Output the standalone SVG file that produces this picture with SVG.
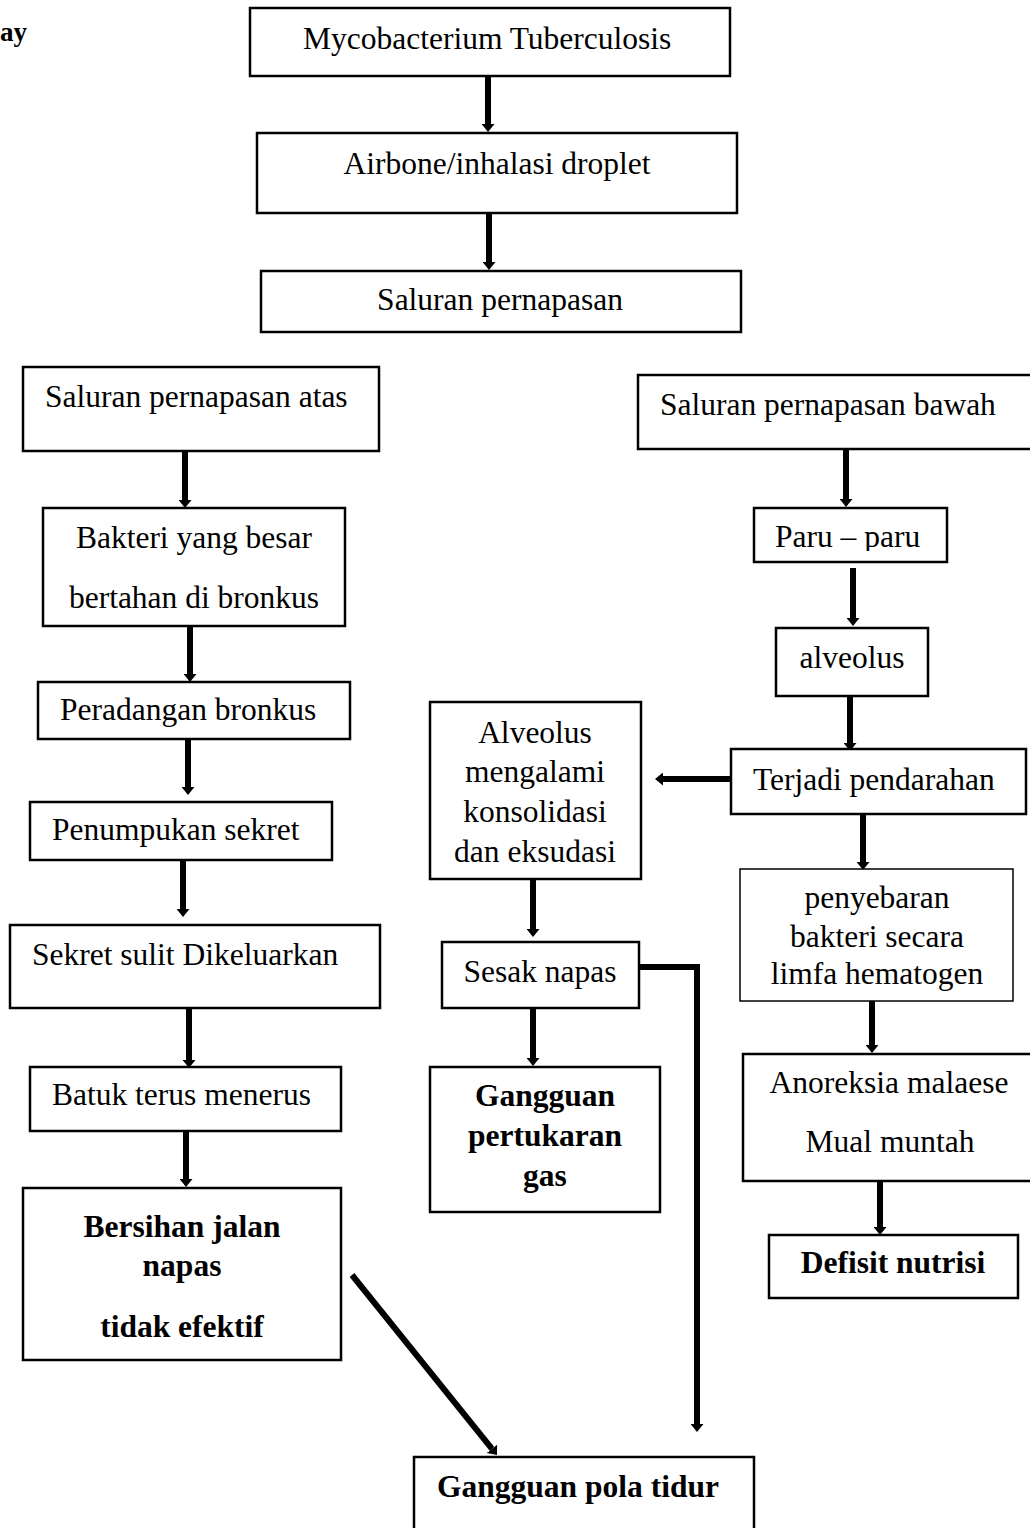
<svg xmlns="http://www.w3.org/2000/svg" width="1030" height="1528" viewBox="0 0 1030 1528">
<style>
.box{fill:#fff;stroke:#000;stroke-width:2.5}
.thin{fill:#fff;stroke:#000;stroke-width:1.5}
.t{font-family:"Liberation Serif","Times New Roman",serif;font-size:31.5px;fill:#000}
.b{font-weight:bold}
.m{text-anchor:middle}
.c{fill:none;stroke:#000;stroke-width:6}
</style>
<defs>
<marker id="ah" markerUnits="userSpaceOnUse" viewBox="0 0 8 13" refX="0" refY="6.5" markerWidth="8" markerHeight="13" orient="auto">
<path d="M0,0 L8,6.5 L0,13 z" fill="#000"/>
</marker>
<clipPath id="clipParu"><rect x="754" y="508" width="193" height="43"/></clipPath>
</defs>
<rect width="1030" height="1528" fill="#fff"/>
<text class="t b" x="0" y="41" style="font-size:27px">ay</text>

<g id="connectors">
<line class="c" x1="488" y1="76" x2="488" y2="124" marker-end="url(#ah)"/>
<line class="c" x1="489" y1="213" x2="489" y2="262" marker-end="url(#ah)"/>
<line class="c" x1="185" y1="451" x2="185" y2="500" marker-end="url(#ah)"/>
<line class="c" x1="190" y1="626" x2="190" y2="674" marker-end="url(#ah)"/>
<line class="c" x1="188" y1="739" x2="188" y2="787" marker-end="url(#ah)"/>
<line class="c" x1="183" y1="860" x2="183" y2="909" marker-end="url(#ah)"/>
<line class="c" x1="189" y1="1008" x2="189" y2="1060" marker-end="url(#ah)"/>
<line class="c" x1="186" y1="1131" x2="186" y2="1179" marker-end="url(#ah)"/>
<line class="c" x1="352" y1="1275" x2="492" y2="1448.8" marker-end="url(#ah)"/>
<line class="c" x1="846" y1="449" x2="846" y2="499" marker-end="url(#ah)"/>
<line class="c" x1="853" y1="568" x2="853" y2="618" marker-end="url(#ah)"/>
<line class="c" x1="850" y1="696" x2="850" y2="743" marker-end="url(#ah)"/>
<line class="c" x1="731" y1="779" x2="663" y2="779" marker-end="url(#ah)"/>
<line class="c" x1="863" y1="814" x2="863" y2="862" marker-end="url(#ah)"/>
<line class="c" x1="872" y1="1001" x2="872" y2="1045" marker-end="url(#ah)"/>
<line class="c" x1="880" y1="1181" x2="880" y2="1227" marker-end="url(#ah)"/>
<line class="c" x1="533" y1="879" x2="533" y2="929" marker-end="url(#ah)"/>
<line class="c" x1="533" y1="1008" x2="533" y2="1058" marker-end="url(#ah)"/>
<polyline class="c" points="639,967 697,967 697,1424" marker-end="url(#ah)"/>
</g>

<g id="n-myco"><rect class="box" x="250" y="8" width="480" height="68"/><text class="t" x="303" y="49">Mycobacterium Tuberculosis</text></g>
<g id="n-airbone"><rect class="box" x="257" y="133" width="480" height="80"/><text class="t m" x="497" y="174">Airbone/inhalasi droplet</text></g>
<g id="n-saluran"><rect class="box" x="261" y="271" width="480" height="61"/><text class="t m" x="500" y="310">Saluran pernapasan</text></g>

<g id="n-atas"><rect class="box" x="23" y="367" width="356" height="84"/><text class="t" x="45" y="407">Saluran pernapasan atas</text></g>
<g id="n-bakteri"><rect class="box" x="43" y="508" width="302" height="118"/><text class="t m" x="194" y="548">Bakteri yang besar</text><text class="t m" x="194" y="608">bertahan di bronkus</text></g>
<g id="n-peradangan"><rect class="box" x="38" y="682" width="312" height="57"/><text class="t" x="60" y="720">Peradangan bronkus</text></g>
<g id="n-penumpukan"><rect class="box" x="30" y="802" width="302" height="58"/><text class="t" x="52" y="840">Penumpukan sekret</text></g>
<g id="n-sekret"><rect class="box" x="10" y="925" width="370" height="83"/><text class="t" x="32" y="965">Sekret sulit Dikeluarkan</text></g>
<g id="n-batuk"><rect class="box" x="30" y="1067" width="311" height="64"/><text class="t" x="52" y="1105">Batuk terus menerus</text></g>
<g id="n-bersihan"><rect class="box" x="23" y="1188" width="318" height="172"/><text class="t b m" x="182" y="1237">Bersihan jalan</text><text class="t b m" x="182" y="1276">napas</text><text class="t b m" x="182" y="1337">tidak efektif</text></g>

<g id="n-bawah"><rect class="box" x="638" y="375" width="400" height="74"/><text class="t" x="660" y="415">Saluran pernapasan bawah</text></g>
<g id="n-paru"><rect class="box" x="754" y="508" width="193" height="54"/><text class="t" x="775" y="547" clip-path="url(#clipParu)">Paru – paru</text></g>
<g id="n-alveolus"><rect class="box" x="776" y="628" width="152" height="68"/><text class="t m" x="852" y="668">alveolus</text></g>
<g id="n-terjadi"><rect class="box" x="731" y="749" width="295" height="65"/><text class="t" x="753" y="790">Terjadi pendarahan</text></g>
<g id="n-penyebaran"><rect class="thin" x="740" y="869" width="273" height="132"/><text class="t m" x="877" y="908">penyebaran</text><text class="t m" x="877" y="947">bakteri secara</text><text class="t m" x="877" y="984">limfa hematogen</text></g>
<g id="n-anoreksia"><rect class="box" x="743" y="1054" width="300" height="127"/><text class="t m" x="889" y="1093">Anoreksia malaese</text><text class="t m" x="890" y="1152">Mual muntah</text></g>
<g id="n-defisit"><rect class="box" x="769" y="1235" width="249" height="63"/><text class="t b m" x="893" y="1273">Defisit nutrisi</text></g>

<g id="n-konsolidasi"><rect class="box" x="430" y="702" width="211" height="177"/><text class="t m" x="535" y="743">Alveolus</text><text class="t m" x="535" y="782">mengalami</text><text class="t m" x="535" y="822">konsolidasi</text><text class="t m" x="535" y="862">dan eksudasi</text></g>
<g id="n-sesak"><rect class="box" x="442" y="942" width="197" height="66"/><text class="t m" x="540" y="982">Sesak napas</text></g>
<g id="n-pertukaran"><rect class="box" x="430" y="1067" width="230" height="145"/><text class="t b m" x="545" y="1106">Gangguan</text><text class="t b m" x="545" y="1146">pertukaran</text><text class="t b m" x="545" y="1186">gas</text></g>
<g id="n-tidur"><rect class="box" x="414" y="1457" width="340" height="90"/><text class="t b m" x="578" y="1497">Gangguan pola tidur</text></g>
</svg>
